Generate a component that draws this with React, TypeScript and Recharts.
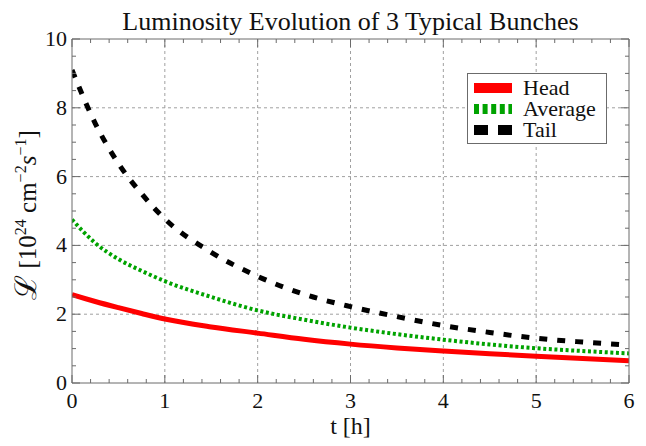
import React from 'react';
import { LineChart, Line, XAxis, YAxis, CartesianGrid, Legend } from 'recharts';

// time in hours
const hours = [0, 0.25, 0.5, 0.75, 1, 1.5, 2, 2.5, 3, 3.5, 4, 4.5, 5, 5.5, 6];

// luminosity in units of 10^24 cm^-2 s^-1
const headLumi = [2.57, 2.37, 2.19, 2.02, 1.86, 1.63, 1.45, 1.27, 1.13, 1.02, 0.93, 0.85, 0.78, 0.71, 0.65];
const averageLumi = [4.75, 4.07, 3.6, 3.26, 2.96, 2.5, 2.11, 1.84, 1.61, 1.42, 1.26, 1.12, 1.01, 0.93, 0.86];
const tailLumi = [9.1, 7.55, 6.38, 5.5, 4.77, 3.8, 3.1, 2.58, 2.22, 1.93, 1.67, 1.47, 1.3, 1.19, 1.1];

const xTicks = [0, 0.2, 0.4, 0.6, 0.8, 1, 1.2, 1.4, 1.6, 1.8, 2, 2.2, 2.4, 2.6, 2.8, 3, 3.2, 3.4, 3.6, 3.8, 4, 4.2, 4.4, 4.6, 4.8, 5, 5.2, 5.4, 5.6, 5.8, 6];
const yTicks = [0, 0.5, 1, 1.5, 2, 2.5, 3, 3.5, 4, 4.5, 5, 5.5, 6, 6.5, 7, 7.5, 8, 8.5, 9, 9.5, 10];
const xMajor = [0, 1, 2, 3, 4, 5, 6];
const yMajor = [0, 2, 4, 6, 8, 10];

const series = [
  { key: 'head', name: 'Head', color: '#ff0000', width: 5, dash: undefined, legendDash: undefined },
  { key: 'average', name: 'Average', color: '#00a300', width: 4, dash: '3 2.6', legendDash: '5 3.6' },
  { key: 'tail', name: 'Tail', color: '#000000', width: 5, dash: '8 10', legendDash: '14 10' },
];

const data = hours.map((t, i) => ({
  t,
  head: headLumi[i],
  average: averageLumi[i],
  tail: tailLumi[i],
}));

const FONT = '"Liberation Serif", "DejaVu Serif", serif';
const FRAME = '#6b6b6b';

const isMajor = (v: number, majors: number[]) => majors.some((m) => Math.abs(m - v) < 1e-6);

// tick renderers: ticks point into the frame, labels only on major values
const BottomTick = ({ x, y, payload }: any) => {
  const major = isMajor(payload.value, xMajor);
  return (
    <g>
      <line x1={x} x2={x} y1={y} y2={y - (major ? 8 : 4)} stroke={FRAME} />
      {major && (
        <text x={x} y={y + 25} textAnchor="middle" fontFamily={FONT} fontSize={22} fill="#111">
          {payload.value}
        </text>
      )}
    </g>
  );
};

const TopTick = ({ x, y, payload }: any) => {
  const major = isMajor(payload.value, xMajor);
  return <line x1={x} x2={x} y1={y} y2={y + (major ? 8 : 4)} stroke={FRAME} />;
};

const LeftTick = ({ x, y, payload }: any) => {
  const major = isMajor(payload.value, yMajor);
  return (
    <g>
      <line x1={x} x2={x + (major ? 8 : 4)} y1={y} y2={y} stroke={FRAME} />
      {major && (
        <text x={x - 5} y={y + 7} textAnchor="end" fontFamily={FONT} fontSize={22} fill="#111">
          {payload.value}
        </text>
      )}
    </g>
  );
};

const RightTick = ({ x, y, payload }: any) => {
  const major = isMajor(payload.value, yMajor);
  return <line x1={x} x2={x - (major ? 8 : 4)} y1={y} y2={y} stroke={FRAME} />;
};

const LegendBox = () => (
  <div
    style={{
      border: `1px solid ${FRAME}`,
      background: '#fff',
      padding: '3px 10px 3px 6px',
      fontFamily: FONT,
      fontSize: 22,
      lineHeight: '21px',
      color: '#111',
    }}
  >
    {series.map((s) => (
      <div key={s.key} style={{ display: 'flex', alignItems: 'center', height: 21 }}>
        <svg width={38} height={21} style={{ marginRight: 11 }}>
          <line x1={0} x2={38} y1={11} y2={11} stroke={s.color} strokeWidth={10} strokeDasharray={s.legendDash} />
        </svg>
        <span>{s.name}</span>
      </div>
    ))}
  </div>
);

const YLabel = () => (
  <text
    transform="translate(28, 207) rotate(-90)"
    textAnchor="middle"
    fontFamily={FONT}
    fontSize={25}
    fill="#111"
  >
    <tspan fontSize={30}>ℒ</tspan>
    <tspan> [10</tspan>
    <tspan fontSize={16} dy={-10}>24</tspan>
    <tspan dy={10}> cm</tspan>
    <tspan fontSize={16} dy={-10}>−2</tspan>
    <tspan fontStyle="italic" dy={10}>s</tspan>
    <tspan fontSize={16} dy={-10}>−1</tspan>
    <tspan dy={10}>]</tspan>
  </text>
);

export default function App() {
  return (
    <div style={{ position: 'relative', width: 630, height: 438, marginBottom: -8 }}>
      <LineChart width={630} height={438} data={data} margin={{ top: 30, right: 8, bottom: 0, left: 0 }}>
        <CartesianGrid
          stroke="#a0a0a0"
          strokeDasharray="3 3"
          horizontalValues={[2, 4, 6, 8]}
          verticalValues={[1, 2, 3, 4, 5]}
        />
        <XAxis
          dataKey="t"
          type="number"
          domain={[0, 6]}
          ticks={xTicks}
          interval={0}
          height={63}
          tickSize={0}
          tickMargin={0}
          tickLine={false}
          tick={<BottomTick />}
          axisLine={{ stroke: FRAME }}
          allowDataOverflow
        />
        <XAxis
          xAxisId="top"
          orientation="top"
          dataKey="t"
          type="number"
          domain={[0, 6]}
          ticks={xTicks}
          interval={0}
          height={1}
          tickSize={0}
          tickMargin={0}
          tickLine={false}
          tick={<TopTick />}
          axisLine={{ stroke: FRAME }}
          allowDataOverflow
        />
        <YAxis
          type="number"
          domain={[0, 10]}
          ticks={yTicks}
          interval={0}
          width={64}
          tickSize={0}
          tickMargin={0}
          tickLine={false}
          tick={<LeftTick />}
          axisLine={{ stroke: FRAME }}
          allowDataOverflow
        />
        <YAxis
          yAxisId="right"
          orientation="right"
          type="number"
          domain={[0, 10]}
          ticks={yTicks}
          interval={0}
          width={1}
          tickSize={0}
          tickMargin={0}
          tickLine={false}
          tick={<RightTick />}
          axisLine={{ stroke: FRAME }}
          allowDataOverflow
        />
        {series.map((s) => (
          <Line
            key={s.key}
            type="monotone"
            dataKey={s.key}
            name={s.name}
            stroke={s.color}
            strokeWidth={s.width}
            strokeDasharray={s.dash}
            dot={false}
            activeDot={false}
            isAnimationActive={false}
          />
        ))}
        <Legend
          layout="vertical"
          align="center"
          verticalAlign="middle"
          content={<LegendBox />}
          wrapperStyle={{ left: 459, top: 65, width: 'auto', height: 'auto' }}
        />
        <text x={342.5} y={22} textAnchor="middle" fontFamily={FONT} fontSize={26} fill="#111">
          Luminosity Evolution of 3 Typical Bunches
        </text>
        <text x={342.5} y={426} textAnchor="middle" fontFamily={FONT} fontSize={24} fill="#111">
          t [h]
        </text>
        <YLabel />
      </LineChart>
    </div>
  );
}
